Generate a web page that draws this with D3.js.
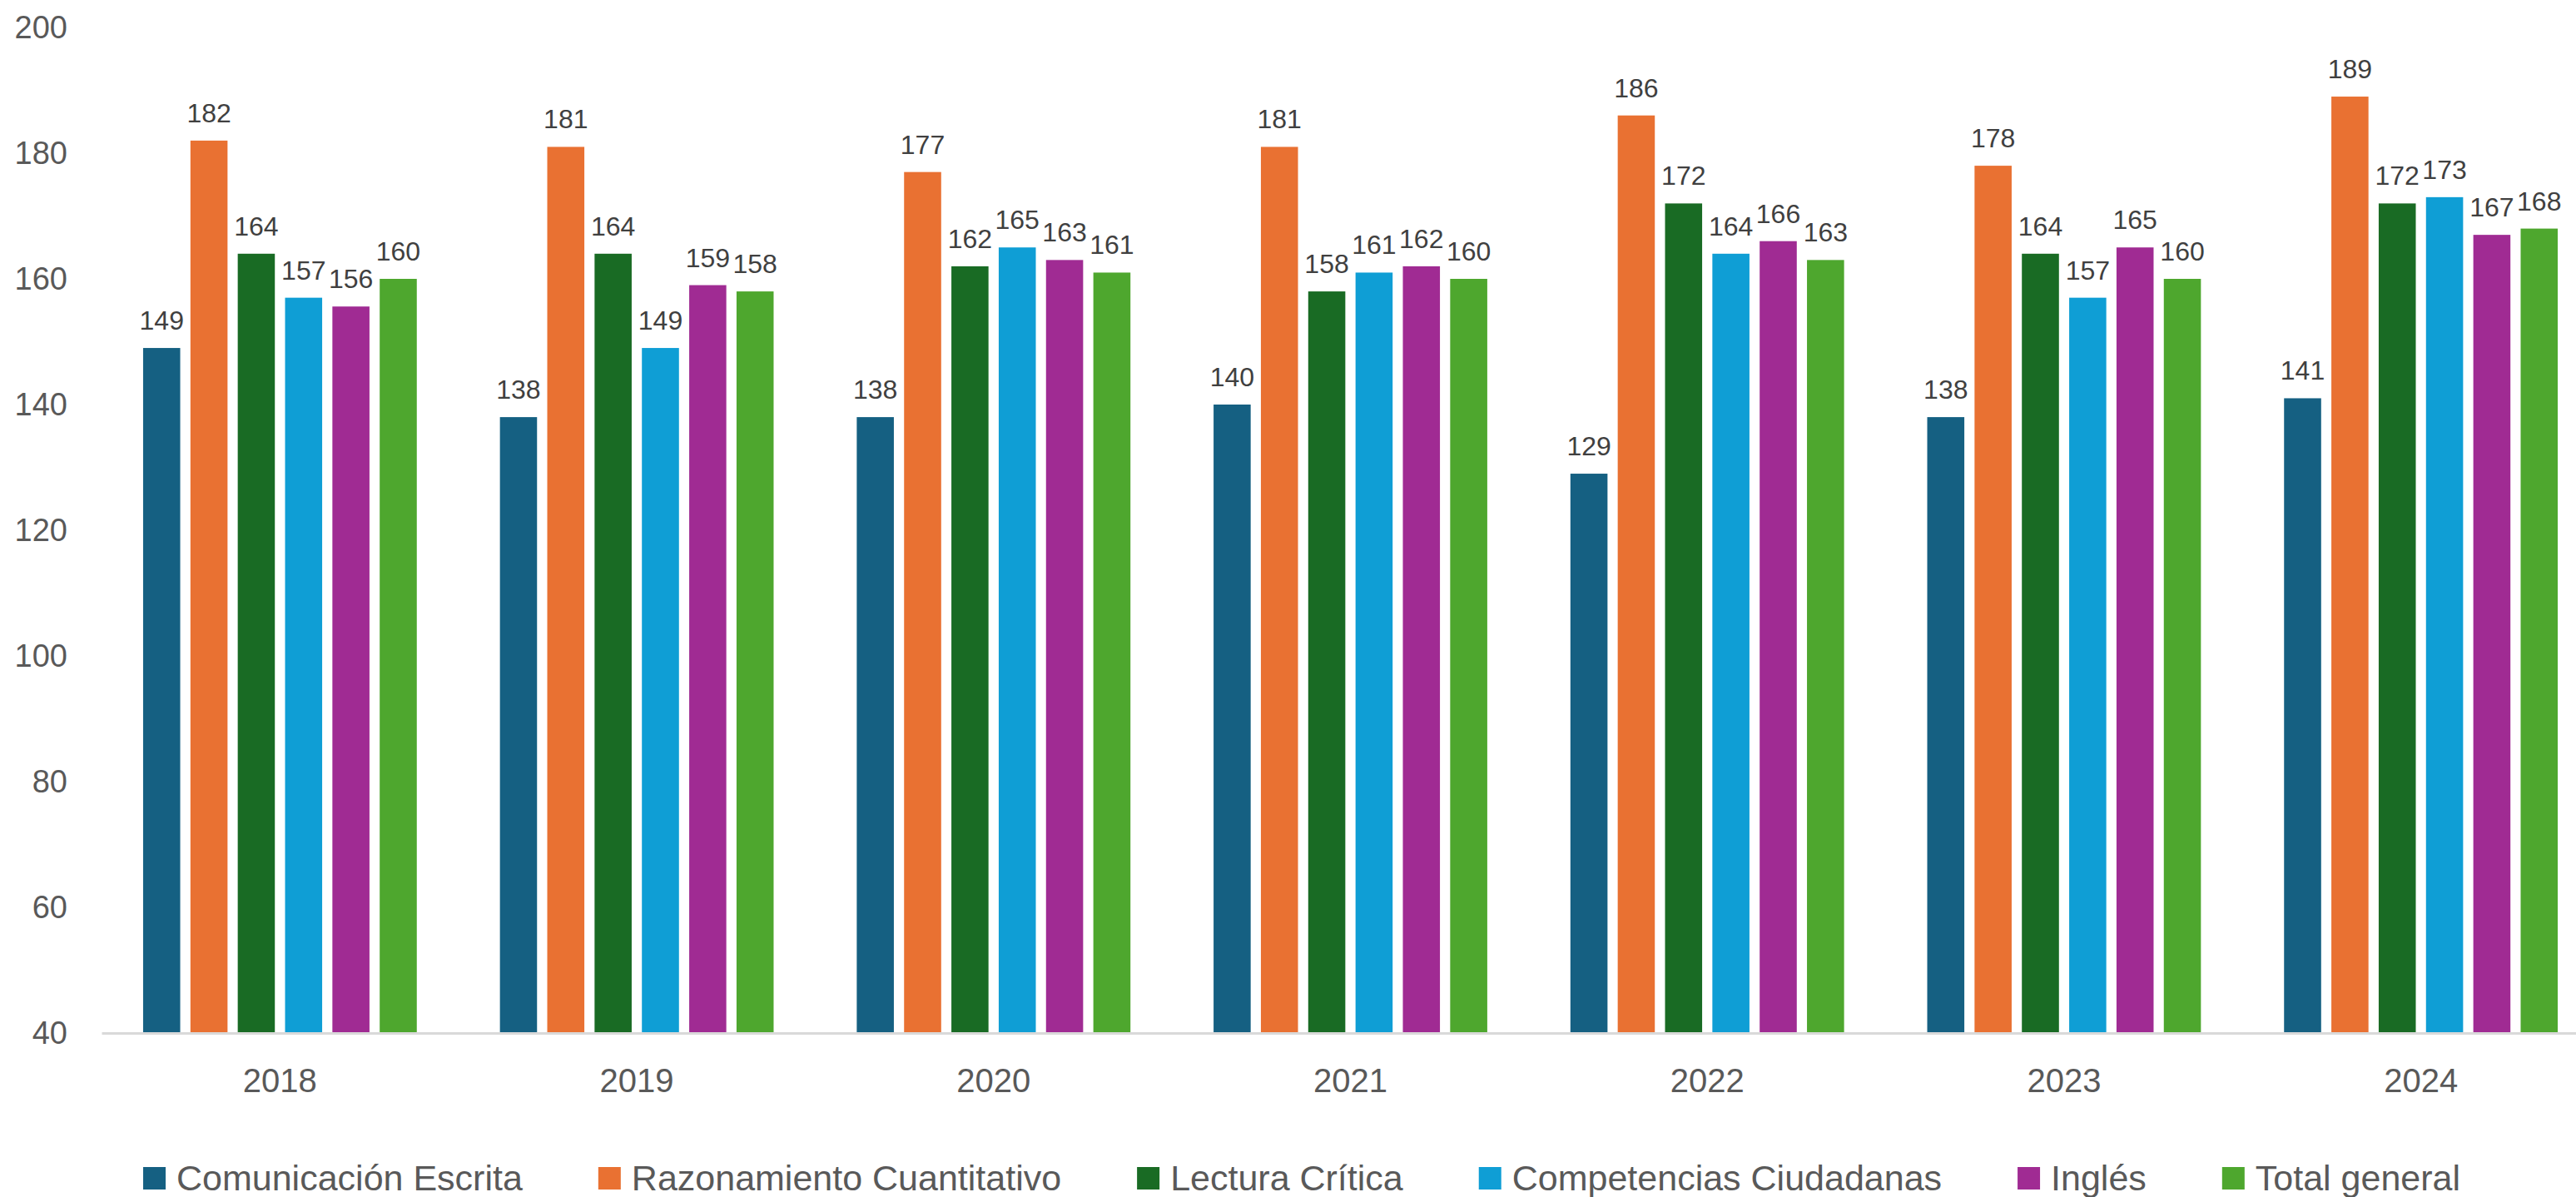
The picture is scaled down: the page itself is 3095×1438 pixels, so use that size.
<!DOCTYPE html>
<html>

<head>
    <meta charset="utf-8">
    <script src="https://d3js.org/d3.v7.min.js"></script>
    <style>
        body {
            margin: 0;
            background-color: #ffffff;
            font-family: "Liberation Sans", Arial, sans-serif;
        }

        .axis text {
            fill: #595959;
            font-family: "Liberation Sans", Arial, sans-serif;
        }

        .axis--y text {
            font-size: 38px;
        }

        .axis--x text {
            font-size: 40px;
        }

        .axis--x .domain {
            stroke: #d9d9d9;
            stroke-width: 3px;
        }

        .bar-label {
            fill: #404040;
            font-size: 32px;
            text-anchor: middle;
        }

        .legend text {
            fill: #595959;
            font-size: 43px;
        }
    </style>
</head>

<body>
    <svg width="3095" height="1438"></svg>
    <script>
        // data
        var years = ["2018", "2019", "2020", "2021", "2022", "2023", "2024"];
        var seriesNames = ["Comunicación Escrita", "Razonamiento Cuantitativo", "Lectura Crítica",
            "Competencias Ciudadanas", "Inglés", "Total general"];
        var seriesColors = ["#156082", "#E97132", "#196B24", "#0F9ED5", "#A02B93", "#4EA72E"];

        var comunicacion = [149, 138, 138, 140, 129, 138, 141];
        var razonamiento = [182, 181, 177, 181, 186, 178, 189];
        var lectura = [164, 164, 162, 158, 172, 164, 172];
        var competencias = [157, 149, 165, 161, 164, 157, 173];
        var ingles = [155.6, 159, 163, 162, 166, 165, 167];
        var total = [160, 158, 161, 160, 163, 160, 168];

        var yTicks = [40, 60, 80, 100, 120, 140, 160, 180, 200];

        var seriesValues = [comunicacion, razonamiento, lectura, competencias, ingles, total];

        //------------------------------------------------------

        var svg = d3.select("svg");
        var plotLeft = 122, plotRight = 3123, plotTop = 33, plotBottom = 1241;

        var x0 = d3.scaleBand()
            .domain(years)
            .range([plotLeft, plotRight])
            .paddingInner(0.233)
            .paddingOuter(0.1165);

        var x1 = d3.scaleBand()
            .domain(seriesNames)
            .range([0, x0.bandwidth()])
            .paddingInner(0.216)
            .paddingOuter(0);

        var y = d3.scaleLinear()
            .domain([40, 200])
            .range([plotBottom, plotTop]);

        // y axis, labels only
        var yAxis = svg.append("g")
            .attr("class", "axis axis--y")
            .attr("transform", "translate(" + plotLeft + ",0)")
            .call(d3.axisLeft(y).tickValues(yTicks).tickSize(0).tickPadding(41));
        yAxis.select(".domain").remove();

        var groups = svg.append("g")
            .selectAll("g")
            .data(years)
            .enter().append("g")
            .attr("transform", function (d) {
                return "translate(" + x0(d) + ",0)";
            });

        var bars = groups.selectAll("g")
            .data(function (d, i) {
                return seriesNames.map(function (name, s) {
                    return { name: name, value: seriesValues[s][i], color: seriesColors[s] };
                });
            })
            .enter().append("g");

        bars.append("rect")
            .attr("x", function (d) { return x1(d.name); })
            .attr("y", function (d) { return y(d.value); })
            .attr("width", x1.bandwidth())
            .attr("height", function (d) { return y(40) - y(d.value); })
            .attr("fill", function (d) { return d.color; });

        bars.append("text")
            .attr("class", "bar-label")
            .attr("x", function (d) { return x1(d.name) + x1.bandwidth() / 2; })
            .attr("y", function (d) { return y(d.value) - 22; })
            .text(function (d) { return Math.round(d.value); });

        // x axis on top of the bars
        svg.append("g")
            .attr("class", "axis axis--x")
            .attr("transform", "translate(0," + plotBottom + ")")
            .call(d3.axisBottom(x0).tickSize(0).tickPadding(43).tickSizeOuter(0));

        // legend
        var legend = svg.append("g")
            .attr("class", "legend")
            .attr("transform", "translate(172,1402)");

        var lx = 0;
        seriesNames.forEach(function (name, s) {
            var item = legend.append("g").attr("transform", "translate(" + lx + ",0)");
            item.append("rect")
                .attr("width", 27)
                .attr("height", 27)
                .attr("fill", seriesColors[s]);
            var t = item.append("text")
                .attr("x", 40)
                .attr("y", 28)
                .text(name);
            lx += 40 + t.node().getComputedTextLength() + 91;
        });
    </script>
</body>

</html>
